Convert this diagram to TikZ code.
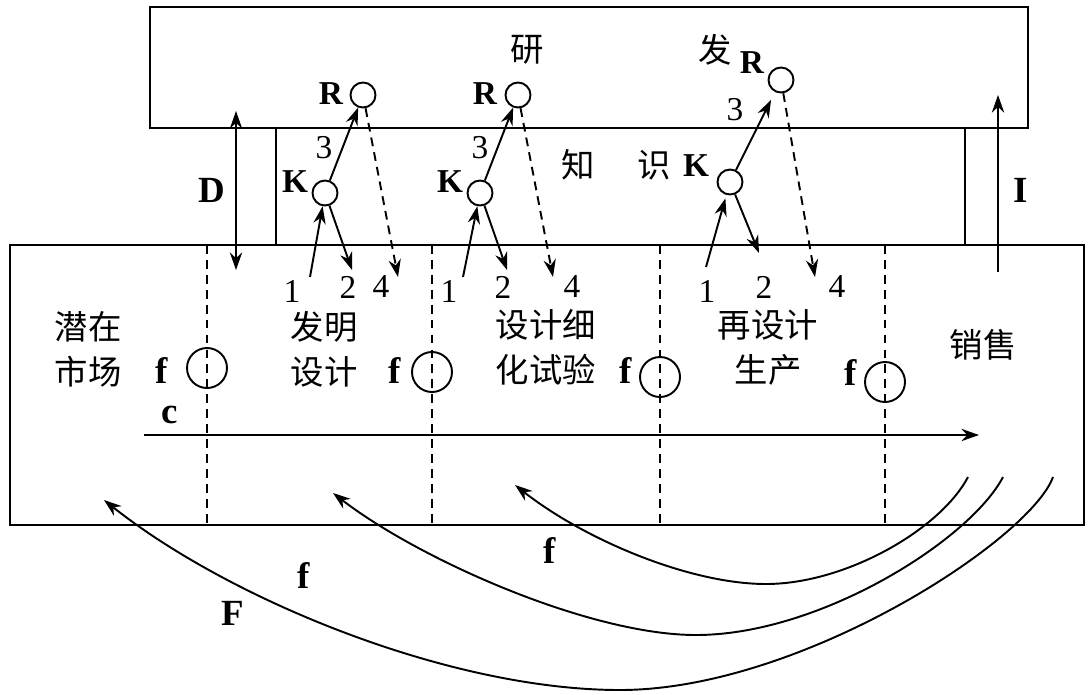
\documentclass[tikz,border=0pt]{standalone}
\usepackage{fontspec}
\setmainfont{Liberation Serif}
\newfontfamily\cjk{Noto Sans CJK SC}
\usetikzlibrary{arrows.meta,positioning}

\begin{document}
\begin{tikzpicture}[x=0.02cm, y=-0.02cm, every node/.style={align=center, inner sep=0pt}]
\tikzset{
  frame/.style={draw, line width=1.3pt},
  stage/.style={font=\cjk\fontsize{19}{25.6}\selectfont},
  big/.style={font=\fontsize{21}{24}\selectfont\bfseries},
  small/.style={font=\fontsize{19}{22}\selectfont\bfseries},
  num/.style={font=\fontsize{19}{22}\selectfont},
  kr/.style={draw, circle, line width=1.1pt, minimum size=0.5cm},
  fring/.style={draw, circle, line width=1.1pt, minimum size=0.8cm},
  link/.style={-{Stealth[length=10pt,width=7pt]}, line width=1.1pt},
  back/.style={link, dash pattern=on 5pt off 3.5pt},
  divider/.style={dash pattern=on 5pt off 3.5pt, line width=1pt}
}
\useasboundingbox (0,0) rectangle (1091,694);

% research / knowledge / chain boxes
\draw[frame] (150,7) rectangle (1028,128);
\draw[frame] (10,245) rectangle (1084,525);
\draw[frame] (276,128) -- (276,245);
\draw[frame] (965,128) -- (965,245);

\node[stage] (yan) at (527,50) {研};
\node[stage] (fa) at (715,50) {发};
\node[stage] (zhi) at (578,165) {知};
\node[stage] (shi) at (654,165) {识};

% stages
\node[stage] (market) at (88,349) {潜在\\市场};
\node[stage] (invent) at (324,349) {发明\\设计};
\node[stage] (detail) at (546,347) {设计细\\化试验};
\node[stage] (redesign) at (768,347) {再设计\\生产};
\node[stage] (sales) at (983,345) {销售};

\foreach \n/\x/\y/\fx/\fy in {1/207/368/162/370, 2/432/372/395/370, 3/660/377/626/370, 4/885/382/851/372}{
  \draw[divider] (\x,245) -- (\x,525);
  \node[fring] (ring\n) at (\x,\y) {};
  \node[big] (flab\n) at (\fx,\fy) {f};
}

% central chain
\coordinate (cstart) at (144,435);
\coordinate (cend) at (979,435);
\draw[link] (cstart) -- (cend);
\node[big] (clab) at (170,415) {c};

% D and I
\coordinate (dtop) at (236,111);
\coordinate (dbot) at (236,270);
\draw[{Stealth[length=10pt,width=7pt]}-{Stealth[length=10pt,width=7pt]}, line width=1.1pt] (dtop) -- (dbot);
\node[big] (dlab) at (212,190) {D};
\coordinate (ibot) at (998,272);
\coordinate (itop) at (998,95);
\draw[link] (ibot) -- (itop);
\node[big] (ilab) at (1021,190) {I};

% K-R links, group 1
\node[kr] (K1) at (325,193) {};
\node[kr] (R1) at (363,95) {};
\node[small] (K1lab) at (295,182) {K};
\node[small] (R1lab) at (331,94) {R};
\node[num] (t1) at (324,148) {3};
\coordinate (in1) at (310,277);
\coordinate (out1) at (352,270);
\coordinate (fb1) at (398,277);
\draw[link] (K1) -- (R1);
\draw[link] (in1) -- (K1);
\draw[link] (K1) -- (out1);
\draw[back] (R1) -- (fb1);
\node[num] (o1) at (292,291) {1};
\node[num] (w1) at (348,287) {2};
\node[num] (v1) at (381,287) {4};

% group 2
\node[kr] (K2) at (480,193) {};
\node[kr] (R2) at (518,95) {};
\node[small] (K2lab) at (450,182) {K};
\node[small] (R2lab) at (485,94) {R};
\node[num] (t2) at (480,148) {3};
\coordinate (in2) at (463,277);
\coordinate (out2) at (507,270);
\coordinate (fb2) at (553,277);
\draw[link] (K2) -- (R2);
\draw[link] (in2) -- (K2);
\draw[link] (K2) -- (out2);
\draw[back] (R2) -- (fb2);
\node[num] (o2) at (449,291) {1};
\node[num] (w2) at (503,287) {2};
\node[num] (v2) at (572,287) {4};

% group 3
\node[kr] (K3) at (730,182) {};
\node[kr] (R3) at (781,80) {};
\node[small] (K3lab) at (696,166) {K};
\node[small] (R3lab) at (752,63) {R};
\node[num] (t3) at (735,110) {3};
\coordinate (in3) at (706,267);
\coordinate (out3) at (759,253);
\coordinate (fb3) at (815,277);
\draw[link, shorten >=5pt] (K3) -- (R3);
\draw[link, shorten >=2pt] (in3) -- (K3);
\draw[link] (K3) -- (out3);
\draw[back] (R3) -- (fb3);
\node[num] (o3) at (707,291) {1};
\node[num] (w3) at (764,287) {2};
\node[num] (v3) at (837,287) {4};

% feedback loops
\coordinate (a1s) at (968,477);
\coordinate (a1b) at (766,584);
\coordinate (a1e) at (515,485);
\draw[link] (a1s) .. controls (940,530) and (845,584) .. (a1b) .. controls (690,584) and (585,540) .. (a1e);
\coordinate (a2s) at (1003,477);
\coordinate (a2b) at (696,635);
\coordinate (a2e) at (333,493);
\draw[link] (a2s) .. controls (970,540) and (820,635) .. (a2b) .. controls (590,635) and (420,560) .. (a2e);
\coordinate (a3s) at (1053,477);
\coordinate (a3b) at (620,690);
\coordinate (a3e) at (104,500);
\draw[link] (a3s) .. controls (1030,540) and (800,690) .. (a3b) .. controls (450,690) and (230,600) .. (a3e);
\node[big] (fl1) at (550,550) {f};
\node[big] (fl2) at (304,575) {f};
\node[big] (Flab) at (233,613) {F};
\end{tikzpicture}
\end{document}
